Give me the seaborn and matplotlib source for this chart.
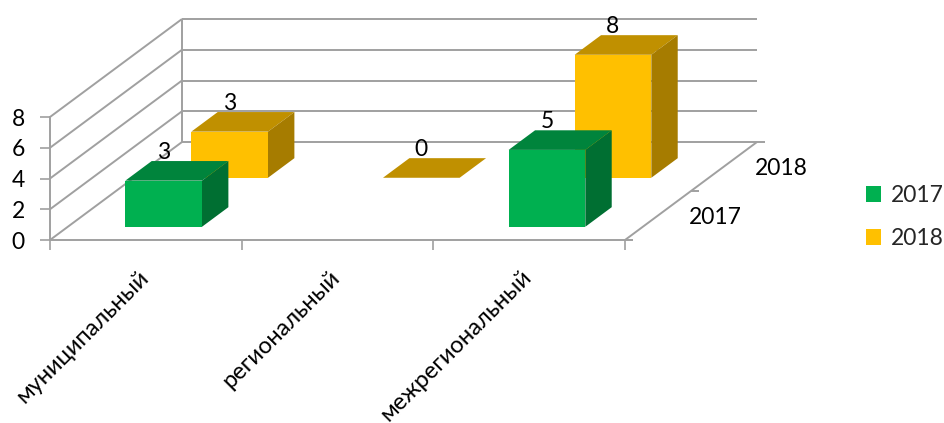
import matplotlib
matplotlib.use("Agg")
import matplotlib.pyplot as plt
import numpy as np
import pandas as pd
import seaborn as sns
from matplotlib.patches import Patch
from matplotlib.transforms import Affine2D

categories = ["муниципальный", "региональный", "межрегиональный"]
series_names = ["2017", "2018"]
values_2017 = [3, np.nan, 5]
values_2018 = [3, 0, 8]
y_ticks = [0, 2, 4, 6, 8]

FACE = {"2017": "#00B050", "2018": "#FFC000"}
TOP = {"2017": "#00843C", "2018": "#C09000"}
SIDE = {"2017": "#006F32", "2018": "#A67C00"}
GRID = "#A0A0A0"
FONT = 16.5
PX = 0.72  # points per pixel at dpi 100

sns.set_theme(style="white")
plt.rcParams["font.family"] = ["Lato", "DejaVu Sans"]

fig = plt.figure(figsize=(9.44, 4.23), dpi=100)
ax = fig.add_axes([50 / 944, (423 - 240) / 423, 575 / 944, 123 / 423])

df = pd.DataFrame({
    "category": categories * 2,
    "value": values_2017 + values_2018,
    "series": [series_names[0]] * 3 + [series_names[1]] * 3,
})
BAR = 0.40
sns.barplot(data=df, x="category", y="value", hue="series", hue_order=series_names,
            palette=FACE, dodge=False, width=BAR, saturation=1, legend=False, ax=ax)
ax.set_xlim(-0.5, 2.5)
ax.set_ylim(0, 8)
ax.set_xlabel("")
ax.set_ylabel("")

# Oblique projection: one depth unit (one series) moves the point right and up
KX = 66 / (575 / 3)
KY = 49 / (123 / 8)
Z_FRONT = 0.27
Z_BACK = 0.67


def proj(x, v, z):
    return x + KX * z, v + KY * z


def line(p, q):
    ax.plot([p[0], q[0]], [p[1], q[1]], color=GRID, lw=1.4, clip_on=False, zorder=1,
            solid_capstyle="butt")


# Walls and floor
x_left, x_right = -0.5, 2.5
for t in y_ticks:
    line(proj(x_left, t, 0), proj(x_left, t, 2))
    line(proj(x_left, t, 2), proj(x_right, t, 2))
line(proj(x_left, 0, 2), proj(x_left, 8, 2))
line(proj(x_right, 0, 0), proj(x_right, 0, 2))
for z in [0, 1, 2]:
    p = proj(x_right, 0, z)
    line(p, (p[0] + 8 / (575 / 3), p[1]))

# Bars, back series first
for s, (name, vals, cont) in enumerate(zip(series_names, [values_2017, values_2018], ax.containers)):
    z0, z1 = s + Z_FRONT, s + Z_BACK
    order = 5 - s * 2
    shift = Affine2D().translate(KX * z0, KY * z0) + ax.transData
    for patch in cont:
        patch.set_transform(shift)
        patch.set_clip_on(False)
        patch.set_zorder(order + 0.2)
        patch.set_linewidth(0)
    for i, v in enumerate(vals):
        if np.isnan(v):
            continue
        a, b = i - BAR / 2, i + BAR / 2
        top = [proj(a, v, z0), proj(b, v, z0), proj(b, v, z1), proj(a, v, z1)]
        side = [proj(b, 0, z0), proj(b, v, z0), proj(b, v, z1), proj(b, 0, z1)]
        ax.fill(*zip(*top), color=TOP[name], lw=0, clip_on=False, zorder=order)
        if v > 0:
            ax.fill(*zip(*side), color=SIDE[name], lw=0, clip_on=False, zorder=order)
        ax.annotate(str(int(v)), proj(i, v, z0), xytext=(0, 28 * PX), textcoords="offset points",
                    ha="center", va="center", fontsize=FONT, color="black",
                    annotation_clip=False, zorder=10)

# Axes
for sp in ["top", "right"]:
    ax.spines[sp].set_visible(False)
for sp in ["left", "bottom"]:
    ax.spines[sp].set_color(GRID)
    ax.spines[sp].set_linewidth(1.4)
ax.set_yticks(y_ticks)
ax.set_yticklabels([str(t) for t in y_ticks], fontsize=FONT, color="black")
ax.tick_params(axis="y", left=True, length=7.2, width=1.2, color=GRID, pad=11)
ax.set_xticks([-0.5, 0.5, 1.5, 2.5], minor=True)
ax.tick_params(axis="x", which="minor", bottom=True, length=7, width=1.2, color=GRID)
ax.set_xticks(range(3))
ax.set_xticklabels(categories, fontsize=17, color="black", rotation=45, ha="right",
                   rotation_mode="anchor")
ax.tick_params(axis="x", which="major", bottom=False, pad=13)
for lab in ax.get_xticklabels():
    lab.set_transform(lab.get_transform() + Affine2D().translate(-8, 0))

# Depth axis labels
for s, name in enumerate(series_names):
    ax.annotate(name, proj(x_right, 0, s + 0.5), xytext=(57 * PX, -2 * PX), textcoords="offset points",
                ha="center", va="center", fontsize=FONT, color="black", annotation_clip=False)

# Legend
handles = [Patch(facecolor=FACE[n], edgecolor="none", label=n) for n in series_names]
fig.legend(handles=handles, loc="center left", bbox_to_anchor=(866 / 944, 1 - 217 / 423),
           frameon=False, fontsize=FONT, handlelength=0.655, handleheight=0.655,
           handletextpad=0.44, labelspacing=0.96, borderpad=0, borderaxespad=0)

fig.savefig("out.png", dpi=100)
